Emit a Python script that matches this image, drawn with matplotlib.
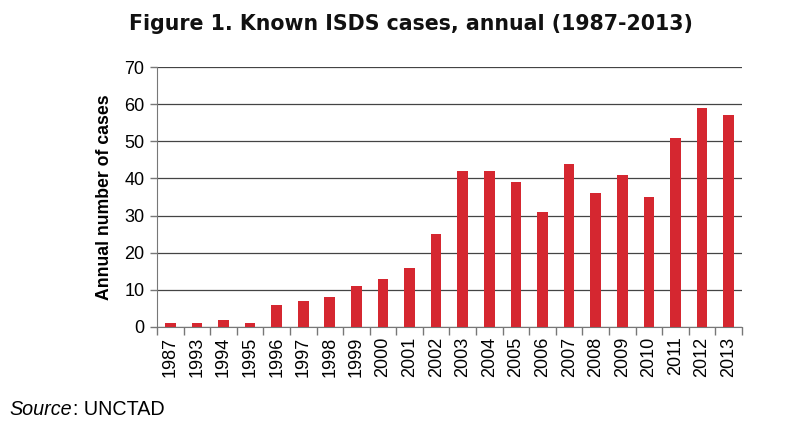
import matplotlib
matplotlib.use("Agg")
import matplotlib.pyplot as plt
import numpy as np

years = ["1987", "1993", "1994", "1995", "1996", "1997", "1998", "1999", "2000",
         "2001", "2002", "2003", "2004", "2005", "2006", "2007", "2008", "2009",
         "2010", "2011", "2012", "2013"]
cases = [1, 1, 2, 1, 6, 7, 8, 11, 13, 16, 25, 42, 42, 39, 31, 44, 36, 41, 35, 51, 59, 57]
yticks = [0, 10, 20, 30, 40, 50, 60, 70]

plt.rcParams['font.family'] = ['Liberation Sans', 'DejaVu Sans']

fig = plt.figure(figsize=(7.86, 4.29), dpi=100)
ax = fig.add_axes([0.1997, 0.2378, 0.944 - 0.1997, 0.8438 - 0.2378])

x = np.arange(len(years))
ax.bar(x, cases, width=0.40, color="#d52730", zorder=3)

ax.set_xlim(-0.5, len(years) - 0.5)
ax.set_ylim(0, 70)
ax.set_yticks(yticks)
ax.set_yticklabels([str(t) for t in yticks], fontsize=13)
ax.yaxis.grid(True, color="#444444", linewidth=0.9, zorder=0)

ax.set_xticks(x)
ax.set_xticklabels(years, rotation=90, fontsize=13)
ax.tick_params(axis='x', length=0, pad=7)
ax.set_xticks(np.arange(-0.5, len(years), 1), minor=True)
ax.tick_params(axis='x', which='minor', length=6, color="#777777", width=1)
ax.tick_params(axis='y', length=5, color="#777777", width=1, pad=4)

for s in ["top", "right"]:
    ax.spines[s].set_visible(False)
ax.spines["left"].set_color("#777777")
ax.spines["bottom"].set_color("#777777")

ax.set_ylabel("Annual number of cases", fontsize=12.7, fontweight="bold", labelpad=8)

fig.text(0.523, 0.945, "Figure 1. Known ISDS cases, annual (1987-2013)",
         ha="center", va="center", fontsize=14.8, fontweight="heavy",
         family=["DejaVu Sans"], color="#111111")
src = fig.text(0.012, 0.032, "Source", ha="left", va="baseline", fontsize=14.2, style="italic")
fig.canvas.draw()
bb = src.get_window_extent()
fig.text(bb.x1 / fig.bbox.width + 0.001, 0.032, ": UNCTAD", ha="left", va="baseline", fontsize=14.2)

fig.savefig("out.png", dpi=100, facecolor="white")
